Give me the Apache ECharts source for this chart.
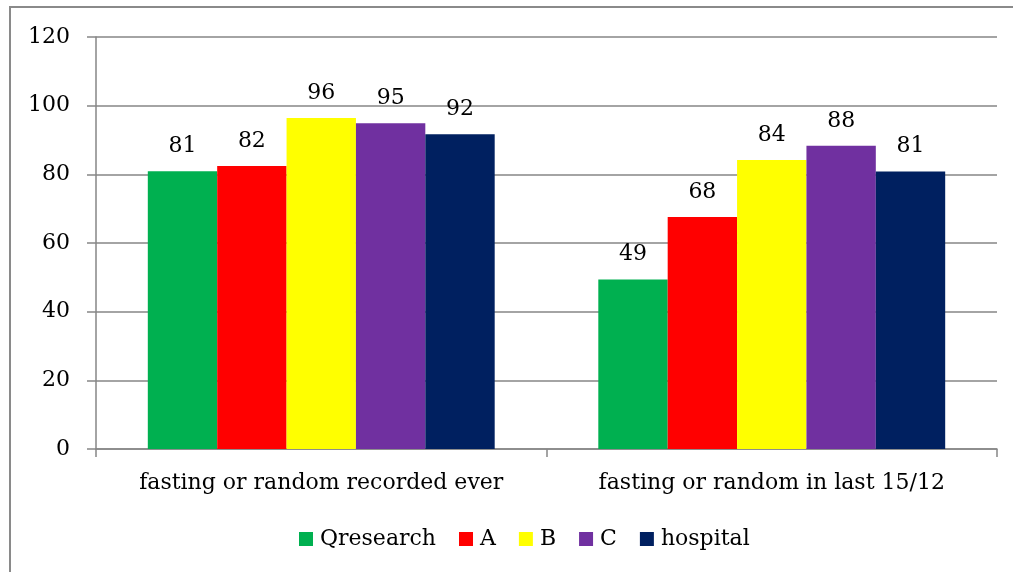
<!DOCTYPE html>
<html><head><meta charset="utf-8">
<script src="https://cdn.jsdelivr.net/npm/echarts@6/dist/echarts.min.js"></script>
<style>html,body{margin:0;padding:0;background:#fff}#c{width:1013px;height:572px}</style>
</head><body><div id="c"></div>
<script>
const categories = ['fasting or random recorded ever', 'fasting or random in last 15/12'];
const seriesNames = ['Qresearch', 'A', 'B', 'C', 'hospital'];
const qresearch = [80.9, 49.4];
const aVals = [82.4, 67.6];
const bVals = [96.4, 84.2];
const cVals = [94.9, 88.3];
const hospital = [91.7, 80.8];
const colors = ['#00B050', '#FF0000', '#FFFF00', '#7030A0', '#002060'];
const yTicks = {min: 0, max: 120, interval: 20};

const FONT = 'DejaVu Serif';
const FS = 22;
const allData = [qresearch, aVals, bVals, cVals, hospital];
const chart = echarts.init(document.getElementById('c'));
chart.setOption({
  animation: false,
  textStyle: {fontFamily: FONT},
  graphic: [{type: 'rect', shape: {x: 10, y: 7, width: 1100, height: 700}, style: {fill: 'none', stroke: '#8a8a8a', lineWidth: 2}}],
  grid: {left: 96, right: 16, top: 37, bottom: 123},
  legend: {
    left: 294, top: 523, itemWidth: 14, itemHeight: 14, itemGap: 23, icon: 'rect',
    textStyle: {fontFamily: FONT, fontSize: FS, color: '#000', padding: [0, 0, 0, 2]},
    data: seriesNames
  },
  xAxis: {
    type: 'category', data: categories,
    axisLine: {lineStyle: {color: '#868686', width: 1.5}},
    axisTick: {show: true, interval: 0, length: 8, lineStyle: {color: '#868686', width: 1.5}},
    axisLabel: {interval: 0, fontFamily: FONT, fontSize: FS, color: '#000', margin: 23}
  },
  yAxis: {
    type: 'value', min: yTicks.min, max: yTicks.max, interval: yTicks.interval,
    axisLine: {show: true, lineStyle: {color: '#868686', width: 1.5}},
    axisTick: {show: true, length: 9, lineStyle: {color: '#868686', width: 1.5}},
    splitLine: {lineStyle: {color: '#868686', width: 1.5}},
    axisLabel: {fontFamily: FONT, fontSize: FS, color: '#000', margin: 26}
  },
  series: seriesNames.map((n, i) => ({
    name: n, type: 'bar', data: allData[i],
    barGap: '0%', barCategoryGap: '23%',
    itemStyle: {color: colors[i]},
    label: {show: true, position: 'top', distance: 14, fontFamily: FONT, fontSize: FS, color: '#000',
      formatter: p => Math.round(p.value)}
  }))
});
</script></body></html>
